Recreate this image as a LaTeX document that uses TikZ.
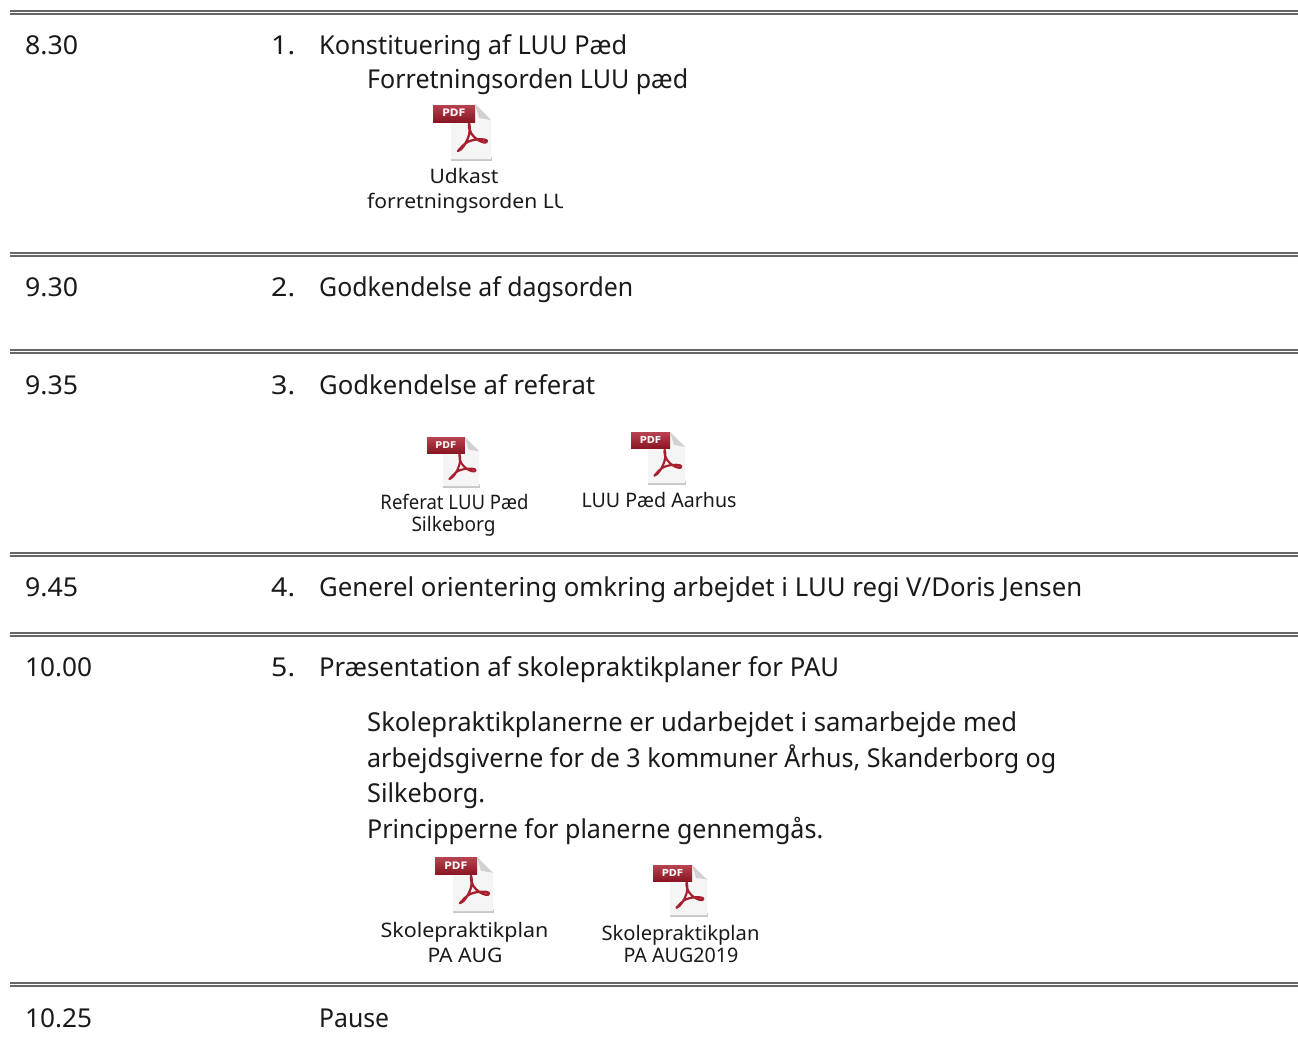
\documentclass[tikz,border=0pt]{standalone}
\usepackage{graphicx}
\usepackage{fontspec}
\setmainfont{Noto Sans}
\newfontfamily\pdffont{DejaVu Sans}
\newcommand{\mainsize}{\fontsize{26}{30}\selectfont}
\newcommand{\smallsize}{\fontsize{20}{24}\selectfont}
\newcommand{\fit}[2]{\resizebox{#1pt}{\height}{#2}}
\definecolor{rulegray}{HTML}{666666}
\definecolor{pdfred}{HTML}{A8202F}
\definecolor{pdfdark}{HTML}{8A1522}
\definecolor{txt}{HTML}{1A1A1A}
\tikzset{
  main/.style={anchor=base west,inner sep=0pt,font=\mainsize,text=txt},
  lab/.style={anchor=base,inner sep=0pt,font=\smallsize,text=txt},
}
\newcommand{\dblrule}[1]{%
  \fill[rulegray] (10,#1-1) rectangle (1298,#1+1.3);
  \fill[rulegray] (10,#1+2.3) rectangle (1298,#1+4.4);
}
% x y width height of icon box (design space 60 x 57)
\newcommand{\pdficon}[4]{%
 \pgfmathsetmacro{\iconfs}{#3/5.8}%
 \pgfmathsetmacro{\iconlw}{#3/26}%
 \begin{scope}[shift={(#1,#2)},x=#3/60*1pt,y=-#4/57*1pt]
  \fill[black!22] (18,53) rectangle (58.5,56.5);
  \fill[black!4] (18,0) -- (42,0) -- (58,16) -- (58,55) -- (18,55) -- cycle;
  \fill[black!18] (42,0) -- (58,16) -- (46,14) -- cycle;
  \draw[pdfred,line width=\iconlw pt,line join=round,line cap=round]
    (36,19) .. controls (35,27) and (40,33) .. (45,36)
    .. controls (48,38) and (54,40) .. (54,37)
    .. controls (53,34) and (38,35) .. (33,39)
    .. controls (29,42) and (26,46) .. (25,47)
    .. controls (29,46) and (34,38) .. (36,31)
    .. controls (37,26) and (37,22) .. (36,19);
  \shade[top color=pdfred!85!white,bottom color=pdfdark] (0,1) rectangle (42,18);
  \node[inner sep=0pt,text=white!88!pink,font=\pdffont\fontsize{\iconfs}{\iconfs}\selectfont\bfseries] at (21,9) {PDF};
 \end{scope}}
\begin{document}
\begin{tikzpicture}[x=1pt,y=-1pt]
\useasboundingbox (0,0) rectangle (1298,1061);
\fill[white] (0,0) rectangle (1298,1061);
\dblrule{11}\dblrule{253}\dblrule{350}\dblrule{553}\dblrule{633}\dblrule{983}

\node[main] (t1) at (25,54) {\fit{53}{8.30}};
\node[main] (n1) at (271,54) {\fit{24}{1.}};
\node[main] (h1) at (319,54) {\fit{308}{Konstituering af LUU Pæd}};
\node[main] (h1b) at (367,88) {\fit{321}{Forretningsorden LUU pæd}};
\pdficon{433}{104}{60}{57}
\node[lab] (l1a) at (464,183) {\fit{69}{Udkast}};
\begin{scope}
\clip (360,190) rectangle (562,215);
\node[lab,anchor=base west] (l1b) at (367,208) {\scalebox{1.055}[1]{forretningsorden LUU}};
\end{scope}

\node[main] (t2) at (25,296) {\fit{53}{9.30}};
\node[main] (n2) at (271,296) {\fit{24}{2.}};
\node[main] (h2) at (319,296) {\fit{314}{Godkendelse af dagsorden}};

\node[main] (t3) at (25,394) {\fit{53}{9.35}};
\node[main] (n3) at (271,394) {\fit{24}{3.}};
\node[main] (h3) at (319,394) {\fit{276}{Godkendelse af referat}};
\pdficon{427}{437}{54}{51}
\pdficon{631}{432}{56}{53}
\node[lab] (l3a) at (454.5,509) {\fit{148}{Referat LUU Pæd}};
\node[lab] (l3b) at (453.5,531) {\fit{84}{Silkeborg}};
\node[lab] (l3c) at (659,507) {\fit{155}{LUU Pæd Aarhus}};

\node[main] (t4) at (25,596) {\fit{53}{9.45}};
\node[main] (n4) at (271,596) {\fit{24}{4.}};
\node[main] (h4) at (319,596) {\fit{763}{Generel orientering omkring arbejdet i LUU regi V/Doris Jensen}};

\node[main] (t5) at (25,676) {\fit{67}{10.00}};
\node[main] (n5) at (271,676) {\fit{24}{5.}};
\node[main] (h5) at (319,676) {\fit{520}{Præsentation af skolepraktikplaner for PAU}};
\node[main] (p1) at (367,731) {\fit{650}{Skolepraktikplanerne er udarbejdet i samarbejde med}};
\node[main] (p2) at (367,767) {\fit{689}{arbejdsgiverne for de 3 kommuner Århus, Skanderborg og}};
\node[main] (p3) at (367,802) {\fit{118}{Silkeborg.}};
\node[main] (p4) at (367,838) {\fit{456}{Principperne for planerne gennemgås.}};
\pdficon{435}{857}{60}{56}
\pdficon{653}{865}{56}{52}
\node[lab] (l5a) at (464.5,937) {\fit{168}{Skolepraktikplan}};
\node[lab] (l5b) at (465,962) {\fit{75}{PA AUG}};
\node[lab] (l5c) at (680.5,940) {\fit{158}{Skolepraktikplan}};
\node[lab] (l5d) at (681,962) {\fit{115}{PA AUG2019}};

\node[main] (t6) at (25,1027) {\fit{67}{10.25}};
\node[main] (h6) at (319,1027) {\fit{70}{Pause}};
\end{tikzpicture}
\end{document}
